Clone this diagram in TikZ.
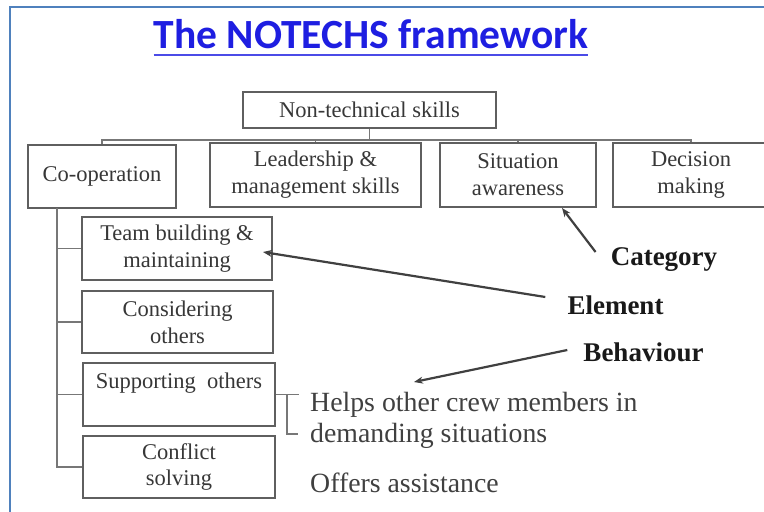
\documentclass[tikz,border=0pt]{standalone}
\usepackage{fontspec}
\setmainfont{Liberation Serif}
\newfontfamily\titlefont{Carlito}
\usetikzlibrary{arrows.meta}
\definecolor{titleblue}{RGB}{30,30,225}
\definecolor{framebl}{RGB}{79,129,189}
\definecolor{boxgray}{RGB}{95,95,95}
\definecolor{txtgray}{RGB}{55,55,55}
\begin{document}
\begin{tikzpicture}[x=1pt,y=-1pt,
  skillbox/.style={draw=boxgray, line width=2pt, text=txtgray, align=center, inner sep=0pt, font=\fontsize{22.5}{27}\selectfont},
  link/.style={draw=boxgray!85, line width=1.6pt},
  pointer/.style={draw=black!75, line width=2.2pt, -{Stealth[length=9pt,width=7pt]}},
  lbl/.style={font=\fontsize{27}{30}\selectfont\bfseries, text=black!90, inner sep=0pt},
  behtext/.style={font=\fontsize{27.8}{30}\selectfont, text=black!75, anchor=west, inner sep=0pt}]
\useasboundingbox (0,0) rectangle (764,512);
\fill[white] (0,0) rectangle (764,512);
% frame
\draw[framebl, line width=2pt] (10,512) -- (10,7) -- (764,7);
% title
\node[font=\titlefont\bfseries\fontsize{41.5}{44}\selectfont, text=titleblue, inner sep=0pt, anchor=base] (title) at (371,48) {The NOTECHS framework};
\draw[titleblue!80, line width=1.6pt] ([yshift=-7pt]title.base west) -- ([yshift=-7pt]title.base east);
% boxes
\node[skillbox, minimum width=253pt, minimum height=36pt] (root) at (369.5,110) {Non-technical skills};
\node[skillbox, minimum width=148pt, minimum height=63pt] (coop) at (102,176.5) {Co-operation};
\node[skillbox, minimum width=211pt, minimum height=64pt] (lead) at (315.5,175) {Leadership \&\\management skills};
\node[skillbox, minimum width=156pt, minimum height=64pt] (sit) at (518,175) {Situation\\awareness};
\node[skillbox, minimum width=156pt, minimum height=64pt] (dec) at (691,175) {Decision\\making};
\node[skillbox, minimum width=190pt, minimum height=63pt] (team) at (177,248.5) {Team building \&\\maintaining};
\node[skillbox, minimum width=191pt, minimum height=62pt] (cons) at (177.5,322) {Considering\\others};
\node[skillbox, minimum width=192pt, minimum height=63pt] (supp) at (179,394.5) {Supporting~~others\\\mbox{}};
\node[skillbox, minimum width=192pt, minimum height=62pt] (conf) at (179,467) {Conflict\\solving};
% category connectors
\coordinate (bar) at (0,140);
\draw[link] (coop.north) -- (coop.north |- bar) -- (dec.north |- bar) -- (dec.north);
\draw[link] (root.south) -- (root.south |- bar);
\draw[link] (lead.north) -- (lead.north |- bar);
\draw[link] (sit.north) -- (sit.north |- bar);
% element tree
\coordinate (tk) at (57,208);
\draw[link] (tk) -- (tk |- conf.west) -- (conf.west);
\draw[link] (tk |- team.west) -- (team.west);
\draw[link] (tk |- cons.west) -- (cons.west);
\draw[link] (tk |- supp.west) -- (supp.west);
% bracket
\coordinate (b1) at (287,395);
\coordinate (b2) at (298,434);
\draw[link, line width=1.2pt] (supp.east) -- ++(23,0);
\draw[link, line width=1.2pt] (b1) |- (b2);
% behaviours
\node[behtext] (helps) at (310,405) {Helps other crew members in};
\node[behtext] (demand) at (310,436) {demanding situations};
\node[behtext] (offers) at (310,483) {Offers assistance};
% labels
\node[lbl] (cat) at (664,260) {Category};
\node[lbl] (elem) at (615.5,305) {Element};
\node[lbl] (beh) at (643.5,352) {Behaviour};
\coordinate (bend) at (414,382);
\draw[pointer] ([shift={(-15pt,8pt)}]cat.west) -- ([xshift=44pt]sit.south);
\draw[pointer] ([shift={(-22pt,8pt)}]elem.west) -- ([shift={(-10pt,-3.5pt)}]team.east);
\draw[pointer] ([shift={(-16pt,2pt)}]beh.west) -- (bend);
\end{tikzpicture}
\end{document}
